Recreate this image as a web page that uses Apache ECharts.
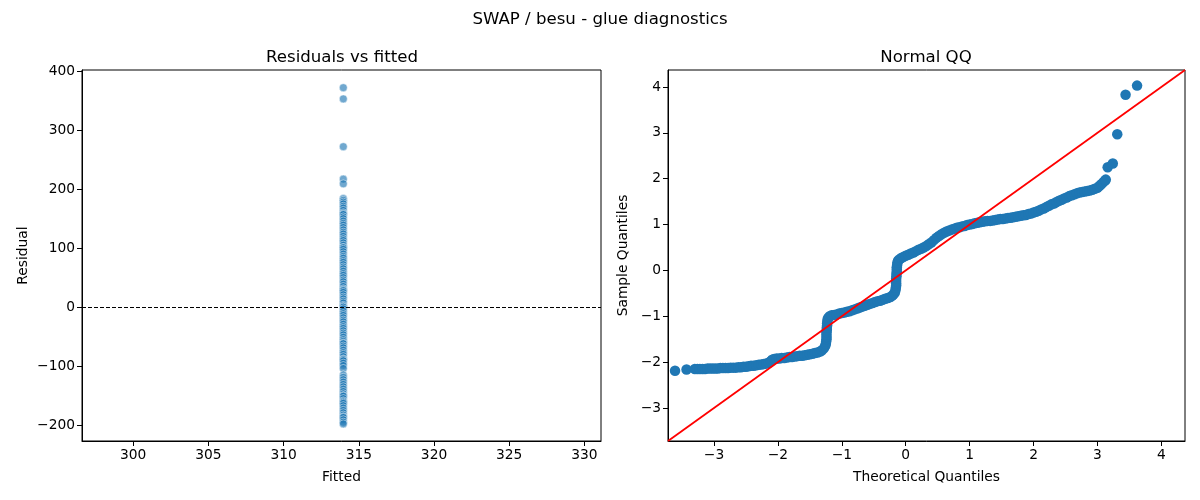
<!DOCTYPE html>
<html>
<head>
<meta charset="utf-8">
<script src="https://cdn.jsdelivr.net/npm/echarts@6/dist/echarts.min.js"></script>
<style>
  html, body { margin: 0; padding: 0; background: #fff; }
  #main { width: 1200px; height: 500px; }
</style>
</head>
<body>
<div id="main"></div>
<script>
// residuals vs fitted: every point sits at the same fitted value
var fittedValue = 313.97;
var residuals = [
  372, 353, 272, 217, 209,
  184, 181, 178, 175, 171, 168, 164, 160, 158, 157, 153, 150, 146, 142, 139, 135, 131,
  127, 124, 120, 116, 113, 109, 105, 101, 101, 98, 94, 90, 86, 83, 79, 76, 72, 68, 65,
  61, 57, 54, 50, 46, 43, 39, 35, 31, 29, 28, 25, 21, 17, 14, 10, 7, 3, 1, 0, -3, -7,
  -11, -14, -18, -22, -25, -29, -33, -36, -40, -44, -47, -51, -55, -58, -61, -62, -66,
  -69, -73, -77, -80, -84, -88, -89, -91, -95, -99, -104,
  -115, -119, -123, -127, -131, -135, -139, -143, -147, -150, -151, -155, -159, -161,
  -163, -167, -171, -175, -179, -183, -186, -187, -191, -195, -198
];
var residXTicks = [300, 305, 310, 315, 320, 325, 330];
var residYTicks = [-200, -100, 0, 100, 200, 300, 400];

// normal QQ: [theoretical quantile, sample quantile]
var qqPoints = [
  [-3.61, -2.19], [-3.43, -2.16],
  [-3.30, -2.15], [-3.26, -2.15], [-3.22, -2.15], [-3.18, -2.15], [-3.14, -2.15], [-3.10, -2.14],
  [-3.06, -2.14], [-3.02, -2.14], [-2.98, -2.14], [-2.94, -2.14], [-2.90, -2.13], [-2.86, -2.13],
  [-2.82, -2.13], [-2.78, -2.13], [-2.74, -2.12], [-2.70, -2.12], [-2.66, -2.12], [-2.62, -2.11],
  [-2.58, -2.11], [-2.54, -2.10], [-2.50, -2.10], [-2.46, -2.09], [-2.42, -2.08], [-2.38, -2.08],
  [-2.34, -2.07], [-2.30, -2.06], [-2.26, -2.05], [-2.22, -2.04], [-2.18, -2.03], [-2.14, -2.01],
  [-2.11, -1.98], [-2.09, -1.95], [-2.06, -1.93], [-2.02, -1.92], [-1.98, -1.92], [-1.94, -1.91],
  [-1.90, -1.91], [-1.86, -1.90], [-1.82, -1.89], [-1.78, -1.89], [-1.74, -1.88], [-1.70, -1.87],
  [-1.66, -1.86], [-1.62, -1.86], [-1.58, -1.85], [-1.54, -1.84], [-1.50, -1.83], [-1.46, -1.82],
  [-1.42, -1.80], [-1.38, -1.79], [-1.34, -1.77], [-1.31, -1.74], [-1.28, -1.70], [-1.26, -1.65],
  [-1.25, -1.60], [-1.245, -1.55], [-1.24, -1.50], [-1.24, -1.45], [-1.24, -1.40], [-1.24, -1.35],
  [-1.235, -1.30], [-1.235, -1.25], [-1.23, -1.20], [-1.23, -1.15], [-1.225, -1.10],
  [-1.22, -1.06], [-1.21, -1.03], [-1.19, -1.00], [-1.16, -0.98], [-1.12, -0.97], [-1.08, -0.96],
  [-1.04, -0.94], [-1.00, -0.93], [-0.96, -0.92], [-0.92, -0.90], [-0.88, -0.89], [-0.84, -0.87],
  [-0.80, -0.85], [-0.76, -0.83], [-0.72, -0.81], [-0.68, -0.79], [-0.64, -0.77], [-0.60, -0.75],
  [-0.56, -0.73], [-0.52, -0.71], [-0.48, -0.69], [-0.44, -0.67], [-0.40, -0.66], [-0.36, -0.64],
  [-0.32, -0.62], [-0.28, -0.60], [-0.24, -0.58], [-0.21, -0.55], [-0.19, -0.52], [-0.17, -0.48],
  [-0.16, -0.43], [-0.155, -0.38], [-0.15, -0.33], [-0.15, -0.28], [-0.15, -0.23], [-0.15, -0.18],
  [-0.145, -0.13], [-0.145, -0.08], [-0.14, -0.03], [-0.14, 0.02], [-0.14, 0.07], [-0.135, 0.12],
  [-0.13, 0.17], [-0.12, 0.21], [-0.10, 0.24], [-0.07, 0.27], [-0.04, 0.29], [0.00, 0.32],
  [0.04, 0.34], [0.08, 0.37], [0.12, 0.39], [0.16, 0.42], [0.20, 0.45], [0.24, 0.47],
  [0.28, 0.50], [0.32, 0.53], [0.36, 0.57], [0.40, 0.61], [0.44, 0.66], [0.48, 0.71],
  [0.52, 0.75], [0.56, 0.79], [0.60, 0.82], [0.64, 0.85], [0.68, 0.87], [0.72, 0.89],
  [0.76, 0.91], [0.80, 0.93], [0.84, 0.94], [0.88, 0.96], [0.92, 0.97], [0.96, 0.99],
  [1.00, 1.00], [1.04, 1.01], [1.08, 1.03], [1.12, 1.04], [1.16, 1.05], [1.20, 1.06],
  [1.24, 1.07], [1.28, 1.08], [1.32, 1.08], [1.36, 1.09], [1.40, 1.10], [1.44, 1.11],
  [1.48, 1.12], [1.52, 1.12], [1.56, 1.13], [1.60, 1.14], [1.64, 1.15], [1.68, 1.16],
  [1.72, 1.17], [1.76, 1.18], [1.80, 1.19], [1.84, 1.20], [1.88, 1.21], [1.92, 1.23],
  [1.96, 1.24], [2.00, 1.26], [2.04, 1.28], [2.08, 1.30], [2.12, 1.33], [2.16, 1.35],
  [2.20, 1.38], [2.24, 1.41], [2.28, 1.44], [2.32, 1.46], [2.36, 1.49], [2.40, 1.52],
  [2.44, 1.54], [2.48, 1.57], [2.52, 1.59], [2.56, 1.62], [2.60, 1.64], [2.64, 1.66],
  [2.68, 1.68], [2.72, 1.70], [2.76, 1.71], [2.80, 1.72], [2.84, 1.73], [2.88, 1.74],
  [2.92, 1.76], [2.96, 1.78], [3.00, 1.80], [3.03, 1.84], [3.06, 1.88], [3.09, 1.92],
  [3.12, 1.96], [3.13, 1.98],
  [3.16, 2.25], [3.24, 2.33], [3.31, 2.97], [3.44, 3.83], [3.62, 4.03]
];
var qqTicks = [-3, -2, -1, 0, 1, 2, 3, 4];
var qqRange = [-3.72, 4.37];

var chartDom = document.getElementById('main');
var myChart = echarts.init(chartDom, null, { renderer: 'canvas' });

var font = 'DejaVu Sans';
function minus(v) {
  return String(v).replace('-', '\u2212');
}
function axisCommon(ticks) {
  return {
    axisLine: { show: true, onZero: false, lineStyle: { color: '#000', width: 1 } },
    axisTick: { show: true, inside: false, length: 5, customValues: ticks, lineStyle: { color: '#000', width: 1 } },
    axisLabel: { customValues: ticks, color: '#000', fontFamily: font, fontSize: 13.8, margin: 7, formatter: minus },
    splitLine: { show: false },
    nameTextStyle: { color: '#000', fontFamily: font, fontSize: 13.8 }
  };
}

var residData = residuals.map(function (r) { return [fittedValue, r]; });

var titleStyle = { fontFamily: font, fontSize: 16.6, fontWeight: 'normal', color: '#000' };

var option = {
  animation: false,
  backgroundColor: '#fff',
  title: [
    { text: 'SWAP / besu - glue diagnostics', left: 595, top: 6, textAlign: 'center', textStyle: titleStyle },
    { text: 'Residuals vs fitted', left: 337, top: 44, textAlign: 'center', textStyle: titleStyle },
    { text: 'Normal QQ', left: 921, top: 44, textAlign: 'center', textStyle: titleStyle }
  ],
  grid: [
    { left: 82, top: 70, right: 599, bottom: 59, show: true, borderColor: '#000', borderWidth: 1, backgroundColor: 'transparent' },
    { left: 668, top: 70, right: 15, bottom: 59, show: true, borderColor: '#000', borderWidth: 1, backgroundColor: 'transparent' }
  ],
  xAxis: [
    Object.assign(axisCommon(residXTicks), {
      type: 'value', gridIndex: 0, min: 296.6, max: 331.1,
      name: 'Fitted', nameLocation: 'middle', nameGap: 29
    }),
    Object.assign(axisCommon(qqTicks), {
      type: 'value', gridIndex: 1, min: qqRange[0], max: qqRange[1],
      name: 'Theoretical Quantiles', nameLocation: 'middle', nameGap: 29
    })
  ],
  yAxis: [
    Object.assign(axisCommon(residYTicks), {
      type: 'value', gridIndex: 0, min: -227, max: 402,
      name: 'Residual', nameLocation: 'middle', nameGap: 52
    }),
    Object.assign(axisCommon(qqTicks), {
      type: 'value', gridIndex: 1, min: qqRange[0], max: qqRange[1],
      name: 'Sample Quantiles', nameLocation: 'middle', nameGap: 38
    })
  ],
  series: [
    {
      type: 'scatter',
      xAxisIndex: 0, yAxisIndex: 0,
      data: residData,
      symbolSize: 8,
      itemStyle: { color: 'rgba(31,119,180,0.8)', borderColor: '#fff', borderWidth: 0.6 },
      markLine: {
        silent: true,
        symbol: 'none',
        label: { show: false },
        lineStyle: { color: '#000', type: [4, 2], width: 1 },
        data: [{ yAxis: 0 }]
      },
      z: 3
    },
    {
      type: 'scatter',
      xAxisIndex: 1, yAxisIndex: 1,
      data: qqPoints,
      symbolSize: 10.5,
      itemStyle: { color: '#1f77b4', opacity: 1 },
      z: 2
    },
    {
      type: 'line',
      xAxisIndex: 1, yAxisIndex: 1,
      data: [[qqRange[0], qqRange[0]], [qqRange[1], qqRange[1]]],
      symbol: 'none',
      lineStyle: { color: '#ff0000', width: 1.8 },
      z: 4
    }
  ]
};

option && myChart.setOption(option);
</script>
</body>
</html>
